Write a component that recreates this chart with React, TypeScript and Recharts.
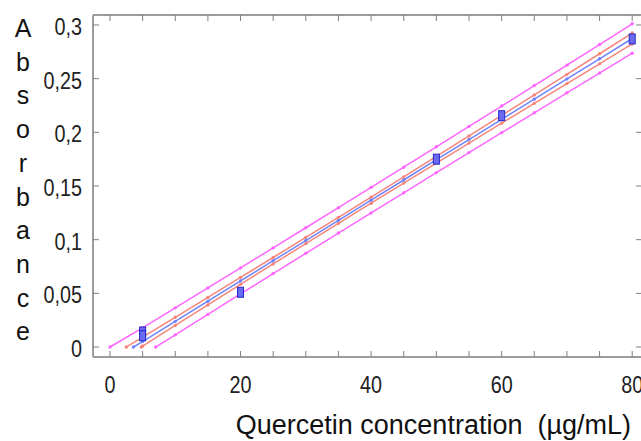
import { ComposedChart, Line, Scatter, XAxis, YAxis } from 'recharts';

const SANS = "'Liberation Sans', Arial, sans-serif";

// axis ticks
const xTicks = [0, 5, 10, 15, 20, 25, 30, 35, 40, 45, 50, 55, 60, 65, 70, 75, 80];
const xLabelled = [0, 20, 40, 60, 80];
const yTicks = [0, 0.05, 0.1, 0.15, 0.2, 0.25, 0.3];
const yTitle = 'Absorbance';
const xTitle = 'Quercetin concentration  (µg/mL)';

// measured standards
const standardX = [5, 5, 20, 50, 60, 80];
const standardY = [0.014, 0.0105, 0.051, 0.175, 0.2155, 0.287];

// fitted line + limits, read every 5 µg/mL
const grid = [5, 10, 15, 20, 25, 30, 35, 40, 45, 50, 55, 60, 65, 70, 75, 80];
const fitLine = [0.0051, 0.0239, 0.0427, 0.0616, 0.0804, 0.0992, 0.118, 0.1368, 0.1556, 0.1745, 0.1933, 0.2121, 0.2309, 0.2497, 0.2685, 0.2874];
const confUpper = [0.0093, 0.0277, 0.0462, 0.0648, 0.0834, 0.1021, 0.1208, 0.1396, 0.1585, 0.1776, 0.1966, 0.2157, 0.2348, 0.254, 0.2732, 0.2925];
const confLower = [0.0009, 0.0201, 0.0392, 0.0584, 0.0774, 0.0963, 0.1152, 0.134, 0.1527, 0.1714, 0.19, 0.2085, 0.227, 0.2454, 0.2638, 0.2823];
const predUpper = [0.0179, 0.0365, 0.055, 0.0737, 0.0924, 0.1111, 0.1298, 0.1487, 0.1675, 0.1865, 0.2055, 0.2245, 0.2436, 0.2626, 0.2818, 0.3011];
const predLower = [null, 0.0113, 0.0304, 0.0495, 0.0684, 0.0873, 0.1062, 0.1249, 0.1437, 0.1625, 0.1811, 0.1997, 0.2182, 0.2368, 0.2552, 0.2737];
// where each line leaves the x axis
const startX = { predUpper: 0, confUpper: 2.5, fitLine: 3.6, confLower: 4.8, predLower: 7.0 };

const series = (x0: number, values: (number | null)[]) => [
  { x: x0, y: 0 },
  ...grid.map((x, i) => ({ x, y: values[i] })).filter((p) => p.y !== null),
];

const points = standardX.map((x, i) => ({ x, y: standardY[i] }));

const X_DOMAIN = [-2.6, 81.5];
const Y_DOMAIN = [-0.0093, 0.3093];
const AXIS = { stroke: '#9c9c9c', strokeWidth: 2 };
const TICK_COLOR = '#808080';
const TICK_LEN = 6;

const comma = (v: number) => String(v).replace('.', ',');

// narrow-ish digits: Liberation Sans squeezed horizontally
const NarrowText = ({ x, y, anchor, children }: any) => (
  <text
    transform={`translate(${x},${y}) scale(0.86,1)`}
    textAnchor={anchor}
    fontSize={23}
    fontFamily={SANS}
    fill="#222"
  >
    {children}
  </text>
);

const BottomTick = (props: any) => {
  const { x, y, payload } = props;
  return (
    <g>
      <line x1={x} y1={y} x2={x} y2={y - TICK_LEN} stroke={TICK_COLOR} />
      {xLabelled.includes(payload.value) && (
        <NarrowText x={x} y={y + 36} anchor="middle">
          {payload.value}
        </NarrowText>
      )}
    </g>
  );
};

const TopTick = (props: any) => (
  <line x1={props.x} y1={props.y} x2={props.x} y2={props.y + TICK_LEN} stroke={TICK_COLOR} />
);

const LeftTick = (props: any) => {
  const { x, y, payload } = props;
  return (
    <g>
      <line x1={x} y1={y} x2={x + TICK_LEN} y2={y} stroke={TICK_COLOR} />
      <NarrowText x={x - 11} y={y + 10} anchor="end">
        {comma(payload.value)}
      </NarrowText>
    </g>
  );
};

const RightTick = (props: any) => (
  <line x1={props.x} y1={props.y} x2={props.x - TICK_LEN} y2={props.y} stroke={TICK_COLOR} />
);

const YTitle = () => (
  <g>
    {yTitle.split('').map((ch, i) => (
      <text key={i} x={23} y={37 + i * 33.7} textAnchor="middle" fontSize={25} fontFamily={SANS} fill="#111">
        {ch}
      </text>
    ))}
  </g>
);

const XTitle = () => (
  <text x={631} y={434} textAnchor="end" fontSize={27} fontFamily={SANS} fill="#111" style={{ whiteSpace: 'pre' }}>
    {xTitle}
  </text>
);

const Square = (props: any) => (
  <rect x={props.cx - 3} y={props.cy - 5} width={6} height={10} fill="#6b6bf2" stroke="#2626c8" strokeWidth={1} />
);

export default function App() {
  const line = (data: { x: number; y: number | null }[], color: string, key: string) => (
    <Line
      key={key}
      xAxisId="b"
      yAxisId="l"
      data={data}
      dataKey="y"
      type="linear"
      stroke={color}
      strokeWidth={1.5}
      dot={{ r: 1.7, fill: color, stroke: 'none' }}
      activeDot={false}
      isAnimationActive={false}
    />
  );

  return (
    <div style={{ position: 'absolute', left: 0, top: 0, width: 641, height: 441, overflow: 'hidden', background: '#fff' }}>
      <ComposedChart width={646} height={441} margin={{ top: 14, right: 3, bottom: 0, left: 0 }}>
        <XAxis
          xAxisId="b"
          dataKey="x"
          type="number"
          domain={X_DOMAIN}
          allowDataOverflow
          ticks={xTicks}
          interval={0}
          height={84}
          tickSize={0}
          tickMargin={0}
          axisLine={AXIS}
          tickLine={false}
          tick={BottomTick}
          label={XTitle}
        />
        <XAxis
          xAxisId="t"
          dataKey="x"
          orientation="top"
          type="number"
          domain={X_DOMAIN}
          allowDataOverflow
          ticks={xTicks}
          interval={0}
          height={1}
          tickSize={0}
          tickMargin={0}
          axisLine={AXIS}
          tickLine={false}
          tick={TopTick}
        />
        <YAxis
          yAxisId="l"
          dataKey="y"
          type="number"
          domain={Y_DOMAIN}
          allowDataOverflow
          ticks={yTicks}
          interval={0}
          width={93}
          tickSize={0}
          tickMargin={0}
          axisLine={AXIS}
          tickLine={false}
          tick={LeftTick}
          label={YTitle}
        />
        <YAxis
          yAxisId="r"
          dataKey="y"
          orientation="right"
          type="number"
          domain={Y_DOMAIN}
          allowDataOverflow
          ticks={yTicks}
          interval={0}
          width={1}
          tickSize={0}
          tickMargin={0}
          axisLine={AXIS}
          tickLine={false}
          tick={RightTick}
        />
        {line(series(startX.predUpper, predUpper), '#ff66ff', 'pu')}
        {line(series(startX.predLower, predLower), '#ff66ff', 'pl')}
        {line(series(startX.confUpper, confUpper), '#f7857a', 'cu')}
        {line(series(startX.confLower, confLower), '#f7857a', 'cl')}
        {line(series(startX.fitLine, fitLine), '#6f82ff', 'fit')}
        {/* invisible copy so the top/right frame axes get a scale */}
        <Line
          xAxisId="t"
          yAxisId="r"
          data={points}
          dataKey="y"
          stroke="none"
          dot={false}
          activeDot={false}
          isAnimationActive={false}
        />
        <Scatter xAxisId="b" yAxisId="l" data={points} dataKey="y" shape={Square} isAnimationActive={false} />
      </ComposedChart>
    </div>
  );
}
